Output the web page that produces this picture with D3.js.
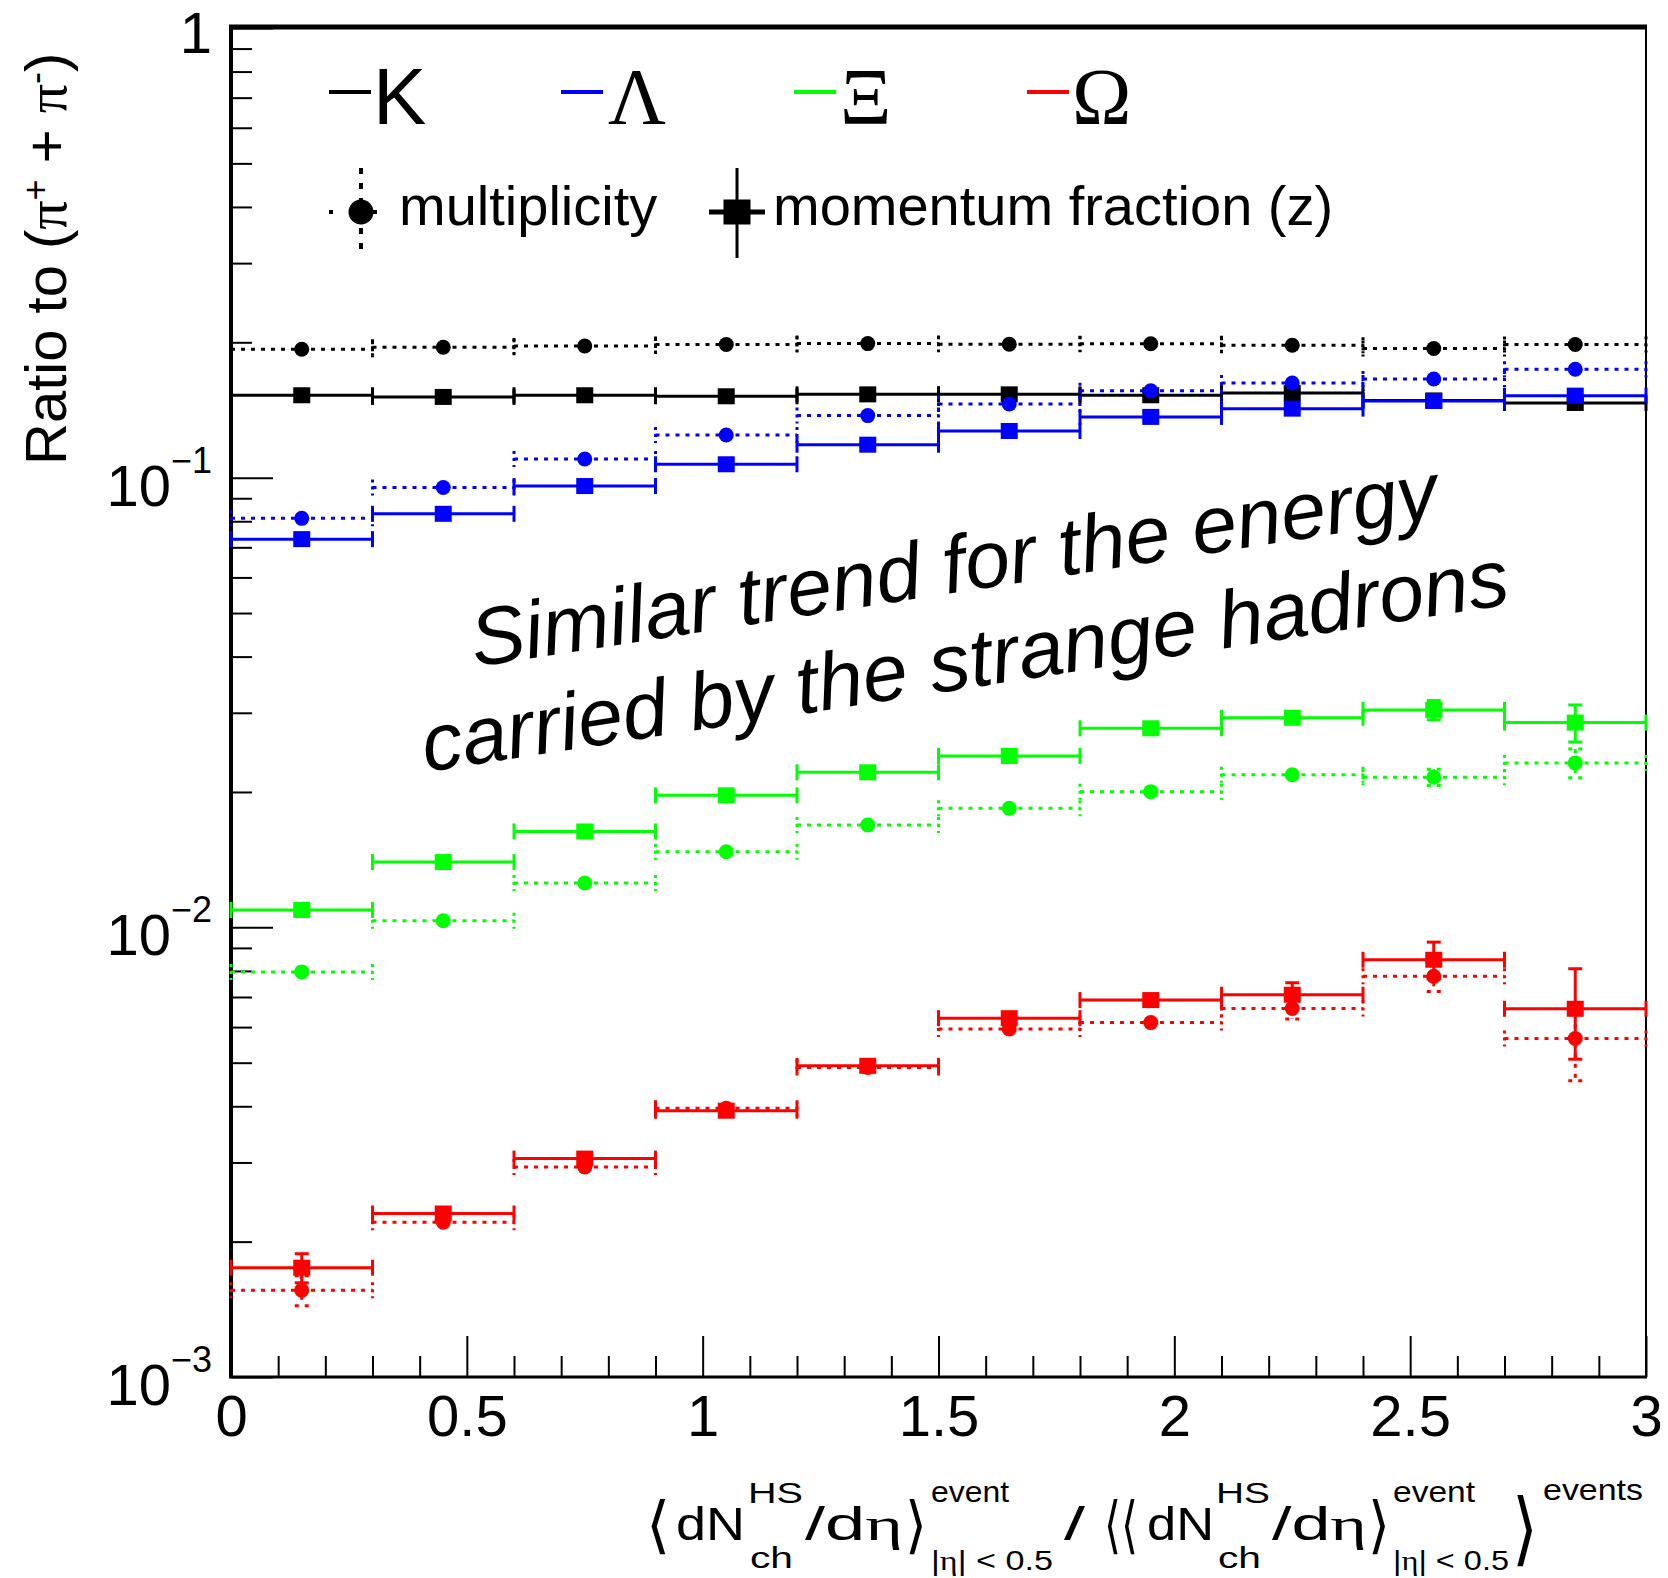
<!DOCTYPE html>
<html><head><meta charset="utf-8">
<script src="https://cdn.jsdelivr.net/npm/d3@7"></script>
<style>body{margin:0;background:#fff}svg{display:block}</style>
</head><body>
<svg id="c" width="1668" height="1578"></svg>
<script>
// ---------------- data ----------------
const binCenters = [0.15, 0.45, 0.75, 1.05, 1.35, 1.65, 1.95, 2.25, 2.55, 2.85];
const binHalfWidth = 0.15;
const species = ["K", "Λ", "Ξ", "Ω"];
const speciesColors = ["#000000", "#0000ff", "#00ff00", "#ff0000"];

const multK   = [0.1930, 0.1950, 0.1963, 0.1977, 0.1987, 0.1980, 0.1985, 0.1970, 0.1937, 0.1977];
const momK    = [0.1525, 0.1512, 0.1525, 0.1517, 0.1532, 0.1532, 0.1525, 0.1542, 0.1485, 0.1466];
const multLam = [0.0812, 0.0951, 0.1100, 0.1244, 0.1374, 0.1458, 0.1560, 0.1624, 0.1657, 0.1742];
const momLam  = [0.0730, 0.0831, 0.0958, 0.1071, 0.1184, 0.1270, 0.1365, 0.1424, 0.1481, 0.1522];
const multXi  = [0.00796, 0.01034, 0.01255, 0.01473, 0.01689, 0.01839, 0.02003, 0.02185, 0.02157, 0.02321];
const momXi   = [0.01093, 0.01397, 0.01634, 0.01966, 0.02212, 0.02405, 0.02771, 0.02924, 0.03045, 0.02853];
const multOm  = [0.00156, 0.00221, 0.00293, 0.00396, 0.00488, 0.00594, 0.00614, 0.00660, 0.00778, 0.00566];
const momOm   = [0.00175, 0.00231, 0.00306, 0.00391, 0.00492, 0.00628, 0.00689, 0.00708, 0.00847, 0.00659];

const errMultK   = [0, 0, 0, 0, 0, 0, 0, 0, 0, 0];
const errMomK    = [0, 0, 0, 0, 0, 0, 0, 0, 0, 0];
const errMultLam = [0, 0, 0, 0, 0, 0, 0, 0, 0, 0];
const errMomLam  = [0, 0, 0, 0, 0, 0, 0, 0, 0, 0];
const errMultXi  = [0, 0, 0, 0, 0, 0, 0.0003, 0.0003, 0.0009, 0.0017];
const errMomXi   = [0, 0, 0, 0, 0, 0, 0.0003, 0.0004, 0.0015, 0.0027];
const errMultOm  = [0.00012, 0.00005, 0.00005, 0.00005, 0.00005, 0.0001, 0.0001, 0.00035, 0.00058, 0.0011];
const errMomOm   = [0.00013, 0.00005, 0.00005, 0.00005, 0.00005, 0.0001, 0.0001, 0.00045, 0.0008, 0.0015];

const xTickValues = [0, 0.5, 1, 1.5, 2, 2.5, 3];
const xTickLabels = ["0", "0.5", "1", "1.5", "2", "2.5", "3"];
const yTickValues = [1e-3, 1e-2, 1e-1, 1];
const yTickExponents = [-3, -2, -1, 0];
const legendTypes = ["multiplicity", "momentum fraction (z)"];
const annotationLines = ["Similar trend for the energy", "carried by the strange hadrons"];

// ---------------- setup ----------------
const SANS = '"Liberation Sans", Arial, Helvetica, sans-serif';
const SERIF = '"Liberation Serif", "Times New Roman", serif';
const BR = '"DejaVu Sans", sans-serif';
const svg = d3.select("#c");
const L = 231, R = 1646, T = 28, B = 1377;
const x = d3.scaleLinear().domain([0, 3]).range([L, R]);
const y = d3.scaleLog().domain([1e-3, 1]).range([B, T]);

const table = [
  {c: speciesColors[0], mult: multK,   mErr: errMultK,   mom: momK,   zErr: errMomK},
  {c: speciesColors[1], mult: multLam, mErr: errMultLam, mom: momLam, zErr: errMomLam},
  {c: speciesColors[2], mult: multXi,  mErr: errMultXi,  mom: momXi,  zErr: errMomXi},
  {c: speciesColors[3], mult: multOm,  mErr: errMultOm,  mom: momOm,  zErr: errMomOm}
];

// ---------------- axes ----------------
const xMinor = d3.range(1, 30).map(k => k / 10).filter(v => Math.abs(v * 2 - Math.round(v * 2)) > 1e-6);
const gxm = svg.append("g").attr("transform", `translate(0,${B})`)
  .call(d3.axisBottom(x).tickValues(xMinor).tickSize(-21).tickSizeOuter(0).tickFormat(""));
const gx = svg.append("g").attr("transform", `translate(0,${B})`)
  .call(d3.axisBottom(x).tickValues(xTickValues).tickSize(-41).tickSizeOuter(0).tickPadding(18)
    .tickFormat((d, i) => xTickLabels[i]));
[gxm, gx].forEach(g => { g.select(".domain").remove(); g.selectAll(".tick line").attr("stroke", "#000").attr("stroke-width", 2); });
gx.selectAll(".tick text").attr("font-family", SANS).attr("font-size", 58).attr("fill", "#000");

const yMinor = [];
[1e-3, 1e-2, 1e-1].forEach(dec => { for (let k = 2; k <= 9; k++) yMinor.push(k * dec); });
const gym = svg.append("g").attr("transform", `translate(${L},0)`)
  .call(d3.axisLeft(y).tickValues(yMinor).tickSize(-21).tickSizeOuter(0).tickFormat(""));
const gy = svg.append("g").attr("transform", `translate(${L},0)`)
  .call(d3.axisLeft(y).tickValues(yTickValues).tickSize(-42).tickSizeOuter(0).tickFormat(""));
[gym, gy].forEach(g => { g.select(".domain").remove(); g.selectAll(".tick line").attr("stroke", "#000").attr("stroke-width", 2); });

// y tick labels (10^n)
svg.append("g").selectAll("text").data(yTickValues).join("text")
  .attr("x", 212).attr("y", (d, i) => y(d) + (yTickExponents[i] === 0 ? 25 : 28))
  .attr("text-anchor", "end").attr("font-family", SANS).attr("font-size", 58).attr("fill", "#000")
  .each(function (d, i) {
    const t = d3.select(this), e = yTickExponents[i];
    if (e === 0) { t.text("1"); return; }
    t.append("tspan").text("10");
    t.append("tspan").attr("dy", -33).attr("font-size", 36).text("\u2212" + (-e));
  });

// frame
svg.append("line").attr("x1", L).attr("x2", L).attr("y1", T - 2).attr("y2", B + 1).attr("stroke", "#000").attr("stroke-width", 4);
svg.append("line").attr("x1", L - 2).attr("x2", R + 1).attr("y1", B).attr("y2", B).attr("stroke", "#000").attr("stroke-width", 3);
svg.append("line").attr("x1", L - 2).attr("x2", R + 1).attr("y1", T - 1).attr("y2", T - 1).attr("stroke", "#000").attr("stroke-width", 5);
svg.append("line").attr("x1", R).attr("x2", R).attr("y1", T - 2).attr("y2", B).attr("stroke", "#000").attr("stroke-width", 2);

// ---------------- series ----------------
function drawSeries(vals, errs, color, kind) {
  const g = svg.append("g");
  const dash = kind === "mult" ? "4,6" : null;
  const rows = binCenters.map((c, i) => ({c, v: vals[i], e: errs[i]}));
  const style = sel => sel.attr("stroke", color).attr("stroke-width", 3).attr("stroke-dasharray", dash).attr("fill", "none");
  g.selectAll(".h").data(rows).join("line")
    .attr("x1", d => x(d.c - binHalfWidth)).attr("x2", d => x(d.c + binHalfWidth))
    .attr("y1", d => y(d.v)).attr("y2", d => y(d.v)).call(style);
  const edges = rows.flatMap(d => [{xv: d.c - binHalfWidth, v: d.v}, {xv: d.c + binHalfWidth, v: d.v}]);
  g.selectAll(".cap").data(edges).join("line")
    .attr("x1", d => x(d.xv)).attr("x2", d => x(d.xv))
    .attr("y1", d => y(d.v) - 8).attr("y2", d => y(d.v) + 8).call(style).attr("stroke-dasharray", kind === "mult" ? "3,4" : null);
  const withErr = rows.filter(d => d.e > 0 && (y(d.v - d.e) - y(d.v)) > 8);
  g.selectAll(".ev").data(withErr).join("line")
    .attr("x1", d => x(d.c)).attr("x2", d => x(d.c))
    .attr("y1", d => y(d.v + d.e)).attr("y2", d => y(d.v - d.e)).call(style);
  const ecaps = withErr.flatMap(d => [{c: d.c, yv: d.v + d.e}, {c: d.c, yv: d.v - d.e}]);
  g.selectAll(".ec").data(ecaps).join("line")
    .attr("x1", d => x(d.c) - 7).attr("x2", d => x(d.c) + 7)
    .attr("y1", d => y(d.yv)).attr("y2", d => y(d.yv)).call(style);
  if (kind === "mult") {
    g.selectAll("circle").data(rows).join("circle")
      .attr("cx", d => x(d.c)).attr("cy", d => y(d.v)).attr("r", 7.5).attr("fill", color);
  } else {
    g.selectAll("rect").data(rows).join("rect")
      .attr("x", d => x(d.c) - 8.5).attr("y", d => y(d.v) - 8).attr("width", 17).attr("height", 16).attr("fill", color);
  }
}
table.forEach(s => { drawSeries(s.mult, s.mErr, s.c, "mult"); drawSeries(s.mom, s.zErr, s.c, "mom"); });

// ---------------- legend ----------------
const legDashX = [329, 561, 794, 1027];
const legTextDx = [44, 47, 46, 45];
species.forEach((s, i) => {
  svg.append("line").attr("x1", legDashX[i]).attr("x2", legDashX[i] + 42).attr("y1", 92).attr("y2", 92)
    .attr("stroke", speciesColors[i]).attr("stroke-width", 4);
  svg.append("text").attr("x", legDashX[i] + legTextDx[i]).attr("y", 124)
    .attr("font-family", i === 0 ? SANS : SERIF).attr("font-size", 80).attr("fill", "#000").text(s);
});
// multiplicity entry
svg.append("line").attr("x1", 361).attr("x2", 361).attr("y1", 168).attr("y2", 258)
  .attr("stroke", "#000").attr("stroke-width", 4).attr("stroke-dasharray", "6,9");
svg.append("line").attr("x1", 329).attr("x2", 393).attr("y1", 212).attr("y2", 212)
  .attr("stroke", "#000").attr("stroke-width", 4).attr("stroke-dasharray", "4,18");
svg.append("circle").attr("cx", 361).attr("cy", 212).attr("r", 12.5).attr("fill", "#000");
svg.append("text").attr("x", 399).attr("y", 225).attr("font-family", SANS).attr("font-size", 56).attr("fill", "#000").text(legendTypes[0]);
// momentum entry
svg.append("line").attr("x1", 737).attr("x2", 737).attr("y1", 168).attr("y2", 258).attr("stroke", "#000").attr("stroke-width", 3);
svg.append("line").attr("x1", 709).attr("x2", 765).attr("y1", 212).attr("y2", 212).attr("stroke", "#000").attr("stroke-width", 5);
svg.append("rect").attr("x", 737 - 13.5).attr("y", 212 - 12.5).attr("width", 27).attr("height", 25).attr("fill", "#000");
svg.append("text").attr("x", 773).attr("y", 225).attr("font-family", SANS).attr("font-size", 56).attr("fill", "#000").text(legendTypes[1]);

// ---------------- annotation ----------------
[[475, 667], [426, 772]].forEach((p, i) => {
  svg.append("text").attr("x", p[0]).attr("y", p[1]).attr("transform", `rotate(-8.8,${p[0]},${p[1]})`)
    .attr("font-family", SANS).attr("font-style", "italic").attr("font-size", 81).attr("fill", "#000")
    .text(annotationLines[i]);
});

// ---------------- axis titles ----------------
const yt = svg.append("text").attr("transform", "translate(66,465) rotate(-90)")
  .attr("font-family", SANS).attr("font-size", 58).attr("fill", "#000");
yt.append("tspan").text("Ratio to (");
yt.append("tspan").attr("font-family", SERIF).text("π");
yt.append("tspan").attr("dy", -18).attr("font-size", 36).text("+");
yt.append("tspan").attr("dy", 18).text(" + ");
yt.append("tspan").attr("font-family", SERIF).text("π");
yt.append("tspan").attr("dy", -18).attr("font-size", 36).text("-");
yt.append("tspan").attr("dy", 18).text(")");

// x title: one text element, pieces placed as tspans
const xt = svg.append("text").attr("font-family", SANS).attr("fill", "#000");
function piece(txt, px, py, fs, tl, fam) {
  const t = xt.append("tspan").attr("x", px).attr("y", py).attr("font-size", fs).attr("font-family", fam || SANS);
  if (Array.isArray(txt)) txt.forEach(p => t.append("tspan").attr("font-family", p[1] ? SERIF : SANS).text(p[0]));
  else t.text(txt);
  if (tl) t.attr("textLength", tl).attr("lengthAdjust", "spacingAndGlyphs");
  return t;
}
piece("\u27E8", 646, 1546, 62, null, BR);
piece("dN", 676, 1540, 46, 69);
piece("HS", 748, 1503, 30, 55);
piece("ch", 750, 1568, 30, 43);
piece([["/d", 0], ["η", 1]], 805, 1540, 46, 98);
piece("\u27E9", 905, 1546, 62, 22, BR);
piece("event", 931, 1502, 30, 78);
piece([["|", 0], ["η", 1], ["| < 0.5", 0]], 931, 1570, 28, 122);
piece("/", 1064, 1540, 46, 21);
piece("\u27E8\u27E8", 1104, 1546, 62, 34, BR);
piece("dN", 1147, 1540, 46, 67);
piece("HS", 1216, 1503, 30, 54);
piece("ch", 1218, 1568, 30, 43);
piece([["/d", 0], ["η", 1]], 1272, 1540, 46, 95);
piece("\u27E9", 1368, 1546, 62, 22, BR);
piece("event", 1393, 1502, 30, 82);
piece([["|", 0], ["η", 1], ["| < 0.5", 0]], 1393, 1570, 28, 116);
piece("\u27E9", 1512, 1556, 80, 26, BR);
piece("events", 1543, 1500, 30, 100);
</script>
</body></html>
